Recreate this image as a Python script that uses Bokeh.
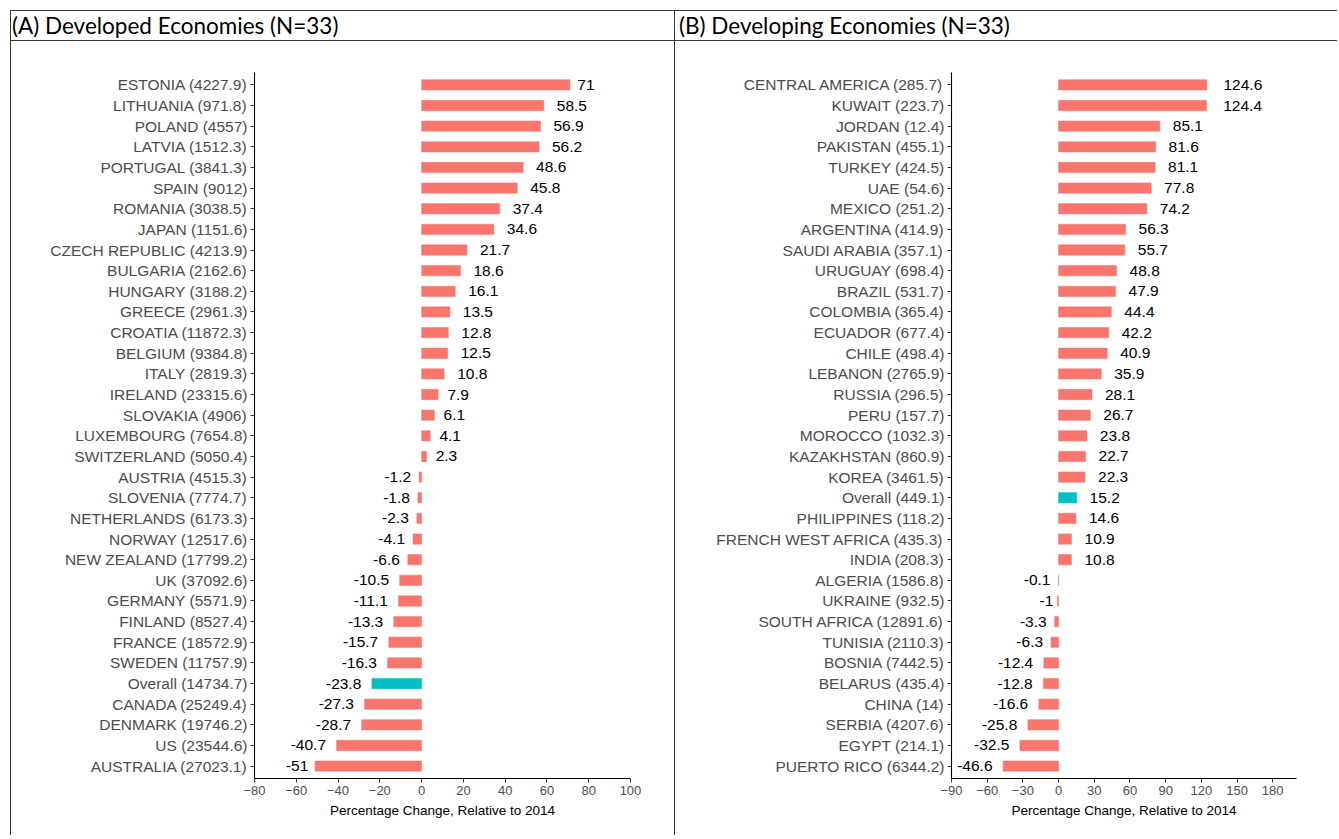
from bokeh.plotting import figure
from bokeh.models import Div, FactorRange, Range1d, FixedTicker, ColumnDataSource
from bokeh.layouts import row, column
from bokeh.core.properties import value
from bokeh.embed import file_html
from bokeh.resources import INLINE

# ---------------- data ----------------
dev_labels = [
    "ESTONIA (4227.9)", "LITHUANIA (971.8)", "POLAND (4557)", "LATVIA (1512.3)",
    "PORTUGAL (3841.3)", "SPAIN (9012)", "ROMANIA (3038.5)", "JAPAN (1151.6)",
    "CZECH REPUBLIC (4213.9)", "BULGARIA (2162.6)", "HUNGARY (3188.2)", "GREECE (2961.3)",
    "CROATIA (11872.3)", "BELGIUM (9384.8)", "ITALY (2819.3)", "IRELAND (23315.6)",
    "SLOVAKIA (4906)", "LUXEMBOURG (7654.8)", "SWITZERLAND (5050.4)", "AUSTRIA (4515.3)",
    "SLOVENIA (7774.7)", "NETHERLANDS (6173.3)", "NORWAY (12517.6)", "NEW ZEALAND (17799.2)",
    "UK (37092.6)", "GERMANY (5571.9)", "FINLAND (8527.4)", "FRANCE (18572.9)",
    "SWEDEN (11757.9)", "Overall (14734.7)", "CANADA (25249.4)", "DENMARK (19746.2)",
    "US (23544.6)", "AUSTRALIA (27023.1)",
]
dev_values = [
    71, 58.5, 56.9, 56.2, 48.6, 45.8, 37.4, 34.6, 21.7, 18.6, 16.1, 13.5, 12.8, 12.5,
    10.8, 7.9, 6.1, 4.1, 2.3, -1.2, -1.8, -2.3, -4.1, -6.6, -10.5, -11.1, -13.3, -15.7,
    -16.3, -23.8, -27.3, -28.7, -40.7, -51,
]
dev_ticks = [-80, -60, -40, -20, 0, 20, 40, 60, 80, 100]

devg_labels = [
    "CENTRAL AMERICA (285.7)", "KUWAIT (223.7)", "JORDAN (12.4)", "PAKISTAN (455.1)",
    "TURKEY (424.5)", "UAE (54.6)", "MEXICO (251.2)", "ARGENTINA (414.9)",
    "SAUDI ARABIA (357.1)", "URUGUAY (698.4)", "BRAZIL (531.7)", "COLOMBIA (365.4)",
    "ECUADOR (677.4)", "CHILE (498.4)", "LEBANON (2765.9)", "RUSSIA (296.5)",
    "PERU (157.7)", "MOROCCO (1032.3)", "KAZAKHSTAN (860.9)", "KOREA (3461.5)",
    "Overall (449.1)", "PHILIPPINES (118.2)", "FRENCH WEST AFRICA (435.3)", "INDIA (208.3)",
    "ALGERIA (1586.8)", "UKRAINE (932.5)", "SOUTH AFRICA (12891.6)", "TUNISIA (2110.3)",
    "BOSNIA (7442.5)", "BELARUS (435.4)", "CHINA (14)", "SERBIA (4207.6)",
    "EGYPT (214.1)", "PUERTO RICO (6344.2)",
]
devg_values = [
    124.6, 124.4, 85.1, 81.6, 81.1, 77.8, 74.2, 56.3, 55.7, 48.8, 47.9, 44.4, 42.2, 40.9,
    35.9, 28.1, 26.7, 23.8, 22.7, 22.3, 15.2, 14.6, 10.9, 10.8, -0.1, -1, -3.3, -6.3,
    -12.4, -12.8, -16.6, -25.8, -32.5, -46.6,
]
devg_ticks = [-90, -60, -30, 0, 30, 60, 90, 120, 150, 180]

BAR = "#F8766D"
HIGHLIGHT = "#00BFC4"
FONT = "Liberation Sans"
LABEL_PX = 15.5
BORDER = "1.5px solid #3a3a3a"

_cw = {".": 0.278, "-": 0.333}


def text_width(s, px):
    return sum(_cw.get(c, 0.556) for c in s) * px


def make_plot(labels, values, ticks, xlo, xhi, width, mbl, mbr):
    factors = list(reversed(labels))
    p = figure(
        width=width, height=794,
        y_range=FactorRange(factors=factors, range_padding=0.1, range_padding_units="absolute"),
        x_range=Range1d(xlo, xhi),
        output_backend="svg", toolbar_location=None,
        min_border_left=mbl, min_border_right=mbr,
        min_border_top=31, min_border_bottom=57,
        background_fill_color="white", border_fill_color="white",
        margin=(0, 0, 0, 0),
    )
    p.outline_line_color = None
    p.grid.grid_line_color = None

    colors = [HIGHLIGHT if l.startswith("Overall") else BAR for l in labels]
    src = ColumnDataSource(dict(y=labels, x=values, c=colors))
    p.hbar(y="y", right="x", left=0, height=0.5, fill_color="c",
           line_color="c", line_width=0.5, source=src)

    pos = dict(y=[], x=[], t=[], off=[])
    neg = dict(y=[], x=[], t=[], off=[])
    for l, v in zip(labels, values):
        t = f"{v:g}"
        w = text_width(t, LABEL_PX)
        if v >= 0:
            pos["y"].append(l); pos["x"].append(v); pos["t"].append(t); pos["off"].append(0.43 * w)
        else:
            neg["y"].append(l); neg["x"].append(v); neg["t"].append(t); neg["off"].append(-0.3 * w)
    for d, align in ((pos, "left"), (neg, "right")):
        p.text(x="x", y="y", text="t", x_offset="off", source=ColumnDataSource(d),
               text_align=align, text_baseline="middle",
               text_font=value(FONT), text_font_size=f"{LABEL_PX}px", text_color="black")

    for ax in (p.xaxis[0], p.yaxis[0]):
        ax.axis_line_color = "black"
        ax.axis_line_width = 1.1
        ax.major_tick_line_color = "#333333"
        ax.major_tick_out = 4
        ax.major_tick_in = 0
        ax.minor_tick_line_color = None
        ax.major_label_text_font = FONT
        ax.major_label_text_color = "#4d4d4d"
        ax.major_label_standoff = 3

    p.xaxis.ticker = FixedTicker(ticks=ticks)
    p.xaxis.major_label_text_font_size = "13px"
    p.xaxis.axis_label = "Percentage Change, Relative to 2014"
    p.xaxis.axis_label_text_font = FONT
    p.xaxis.axis_label_text_font_size = "13.5px"
    p.xaxis.axis_label_text_font_style = "normal"
    p.xaxis.axis_label_text_color = "black"
    p.xaxis.axis_label_standoff = 5
    p.yaxis.major_label_text_font_size = f"{LABEL_PX}px"
    return p


def header(text, width, pad):
    return Div(
        text=text, width=width, height=30, margin=(0, 0, 0, 0),
        styles={
            "font-family": "Lato", "font-size": "22.5px", "color": "black",
            "line-height": "30px", "padding-left": f"{pad}px",
            "border-bottom": BORDER, "white-space": "nowrap",
            "box-sizing": "border-box",
        },
    )


pA = make_plot(dev_labels, dev_values, dev_ticks, -80, 100, 663, 243, 44)
pB = make_plot(devg_labels, devg_values, devg_ticks, -90, 200, 662, 276, 41)

colA = column(header("(A) Developed Economies (N=33)", 663, 1), pA, margin=(0, 0, 0, 0),
              styles={"border-left": BORDER, "border-top": BORDER, "border-right": BORDER})
colB = column(header("(B) Developing Economies (N=33)", 662, 4), pB, margin=(0, 0, 0, 0),
              styles={"border-top": BORDER})

layout = row(colA, colB, margin=(10, 0, 0, 10))

open("out.html", "w").write(file_html(layout, INLINE))
